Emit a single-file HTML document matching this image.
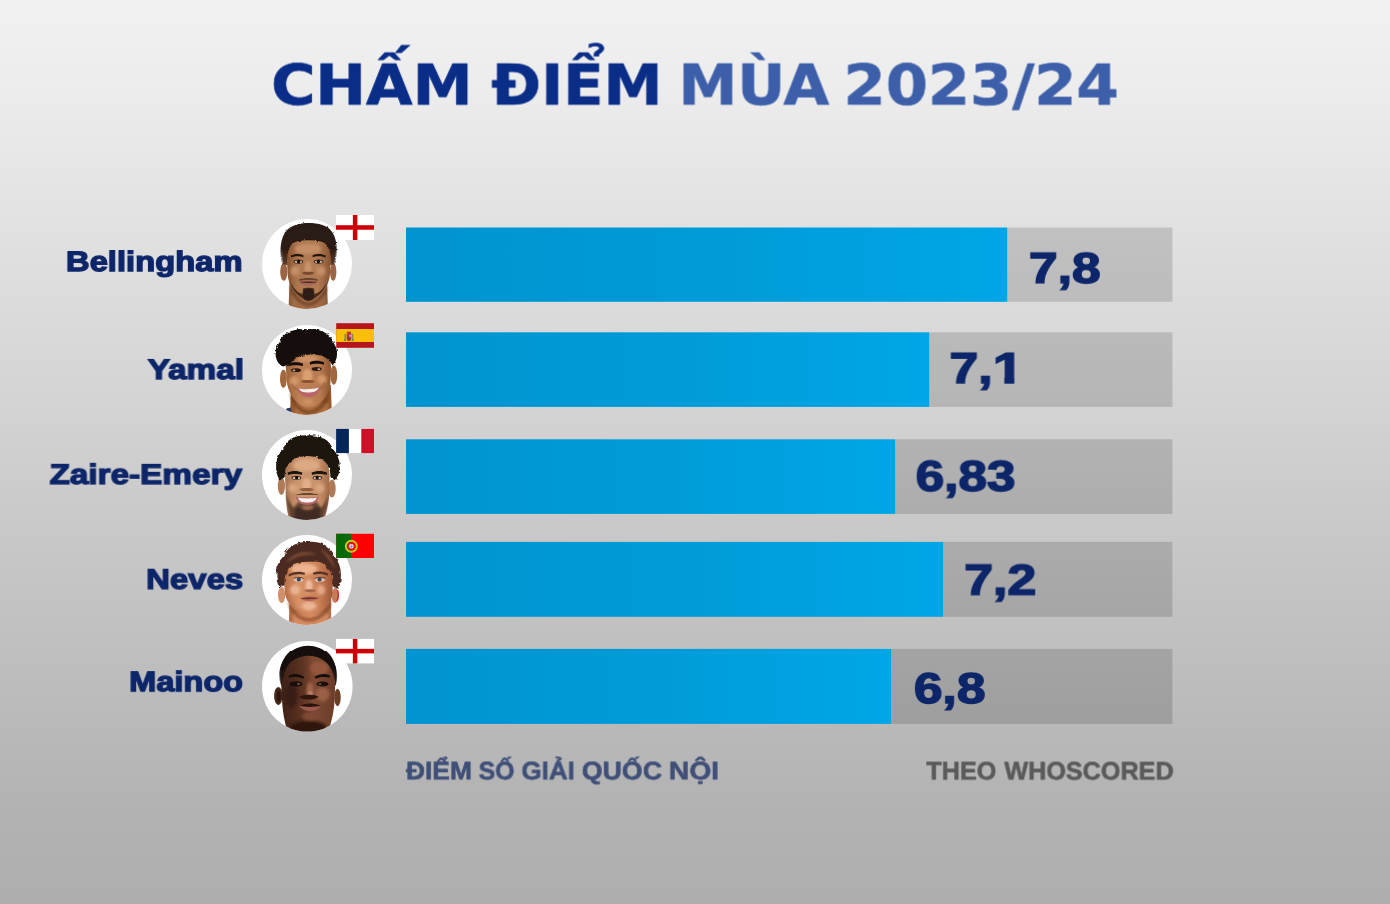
<!DOCTYPE html>
<html lang="vi">
<head>
<meta charset="utf-8">
<title>Chấm điểm mùa 2023/24</title>
<style>
html,body{margin:0;padding:0;}
body{width:1390px;height:904px;overflow:hidden;background:#cfcfcf;}
#stage{position:relative;width:1390px;height:904px;overflow:hidden;
  background:linear-gradient(to bottom,#f1f1f1 0%,#ececec 10%,#d3d3d3 45%,#cbcbcb 55%,#b2b2b2 90%,#aeaeae 100%);
  font-family:"Liberation Sans",sans-serif;}
.t{position:absolute;white-space:nowrap;will-change:transform;line-height:1;text-rendering:geometricPrecision;transform-origin:0 0;margin:0;padding:0;}
/* title */
.ttl{font-family:"DejaVu Sans","Liberation Sans",sans-serif;font-weight:700;font-size:56.1px;color:#0a2d88;-webkit-text-stroke:0.7px #0a2d88;}
.ttl.b{color:#3d5fa9;-webkit-text-stroke:0.7px #3d5fa9;}
/* names */
.nm{font-weight:700;font-size:28.1px;color:#0d2669;-webkit-text-stroke:1.3px #0d2669;transform-origin:100% 0;text-align:right;transform:scaleX(1.17);}
/* scores */
.sc{font-weight:700;font-size:43.1px;color:#0d2669;-webkit-text-stroke:1.5px #0d2669;transform:scaleX(1.19);}
.one{display:inline-block;transform-origin:0 0;transform:scaleX(1.07);clip-path:polygon(0 0,100% 0,100% 28.9px,16.9px 28.9px,16.9px 100%,9.1px 100%,9.1px 28.9px,0 28.9px);}
/* footers */
.ft{font-weight:700;font-size:25.2px;}
.fa{color:#3f4f78;-webkit-text-stroke:0.6px #3f4f78;}
.fb{color:#5a5a5a;-webkit-text-stroke:0.6px #5a5a5a;}
.av{position:absolute;left:262px;width:90px;height:90px;}
</style>
</head>
<body>
<div id="stage">

<!-- TITLE -->
<div class="t ttl" id="w1" style="left:271px;top:59px;transform:translate(0.14px,-0.47px) rotate(0.02deg) scaleX(1.0762);">CHẤM</div>
<div class="t ttl" id="w2" style="left:491px;top:59px;transform:translate(0.42px,-0.47px) rotate(0.02deg) scaleX(1.0562);">ĐIỂM</div>
<div class="t ttl b" id="w3" style="left:679px;top:59px;transform:translate(-0.54px,-0.48px) rotate(0.02deg) scaleX(1.0528);">MÙA</div>
<div class="t ttl b" id="w4" style="left:843px;top:59px;transform:translate(0.56px,-0.48px) rotate(0.02deg) scaleX(1.0801);">2023/24</div>

<!-- BARS -->
<svg id="bars" width="1390" height="904" viewBox="0 0 1390 904" style="position:absolute;left:0;top:0">
<defs>
<linearGradient id="bg1" gradientUnits="userSpaceOnUse" x1="406" y1="0" x2="1007.3" y2="0"><stop offset="0" stop-color="#0094d0"/><stop offset="0.5" stop-color="#009bd8"/><stop offset="1" stop-color="#00a6e6"/></linearGradient>
<linearGradient id="bg2" gradientUnits="userSpaceOnUse" x1="406" y1="0" x2="929.3" y2="0"><stop offset="0" stop-color="#0094d0"/><stop offset="0.5" stop-color="#009bd8"/><stop offset="1" stop-color="#00a6e6"/></linearGradient>
<linearGradient id="bg3" gradientUnits="userSpaceOnUse" x1="406" y1="0" x2="895.2" y2="0"><stop offset="0" stop-color="#0094d0"/><stop offset="0.5" stop-color="#009bd8"/><stop offset="1" stop-color="#00a6e6"/></linearGradient>
<linearGradient id="bg4" gradientUnits="userSpaceOnUse" x1="406" y1="0" x2="943.2" y2="0"><stop offset="0" stop-color="#0094d0"/><stop offset="0.5" stop-color="#009bd8"/><stop offset="1" stop-color="#00a6e6"/></linearGradient>
<linearGradient id="bg5" gradientUnits="userSpaceOnUse" x1="406" y1="0" x2="891.1" y2="0"><stop offset="0" stop-color="#0094d0"/><stop offset="0.5" stop-color="#009bd8"/><stop offset="1" stop-color="#00a6e6"/></linearGradient>
</defs>
<rect x="1007.3" y="227.5" width="165.1" height="74.3" fill="#000" fill-opacity="0.14"/>
<rect x="406" y="227.5" width="601.3" height="74.3" fill="url(#bg1)"/>
<rect x="929.3" y="332.3" width="243.1" height="74.6" fill="#000" fill-opacity="0.14"/>
<rect x="406" y="332.3" width="523.3" height="74.6" fill="url(#bg2)"/>
<rect x="895.2" y="439.3" width="277.2" height="74.6" fill="#000" fill-opacity="0.14"/>
<rect x="406" y="439.3" width="489.2" height="74.6" fill="url(#bg3)"/>
<rect x="943.2" y="541.9" width="229.2" height="74.9" fill="#000" fill-opacity="0.14"/>
<rect x="406" y="541.9" width="537.2" height="74.9" fill="url(#bg4)"/>
<rect x="891.1" y="648.9" width="281.3" height="75.0" fill="#000" fill-opacity="0.14"/>
<rect x="406" y="648.9" width="485.1" height="75.0" fill="url(#bg5)"/>
</svg>

<!-- NAMES -->
<div class="t nm" id="n1" style="right:1148px;top:248px;transform:translate(0.03px,0.04px) rotate(0.02deg) scaleX(1.1657);">Bellingham</div>
<div class="t nm" id="n2" style="right:1146px;top:356px;transform:translate(-0.21px,-0.05px) rotate(0.02deg) scaleX(1.1854);">Yamal</div>
<div class="t nm" id="n3" style="right:1148px;top:461px;transform:translate(-0.36px,-0.13px) rotate(0.02deg) scaleX(1.1853);">Zaire-Emery</div>
<div class="t nm" id="n4" style="right:1147px;top:566px;transform:translate(0.47px,-0.25px) rotate(0.02deg) scaleX(1.1727);">Neves</div>
<div class="t nm" id="n5" style="right:1147px;top:668px;transform:translate(-0.18px,0.14px) rotate(0.02deg) scaleX(1.1593);">Mainoo</div>

<!-- SCORES -->
<div class="t sc" id="s1" style="left:1029px;top:248px;transform:translate(-0.08px,-0.23px) rotate(0.02deg) scaleX(1.1974);">7,8</div>
<div class="t sc" id="s2" style="left:950px;top:348px;transform:translate(-0.50px,-0.10px) rotate(0.02deg) scaleX(1.1990);">7,<span class="one">1</span></div>
<div class="t sc" id="s3" style="left:916px;top:456px;transform:translate(-0.31px,-0.29px) rotate(0.02deg) scaleX(1.1901);">6,83</div>
<div class="t sc" id="s4" style="left:964px;top:560px;transform:translate(0.24px,-0.44px) rotate(0.02deg) scaleX(1.2037);">7,2</div>
<div class="t sc" id="s5" style="left:914px;top:668px;transform:translate(-0.10px,-0.03px) rotate(0.02deg) scaleX(1.1930);">6,8</div>

<!-- FOOTERS -->
<div class="t ft fa" id="f1a" style="left:406px;top:759px;transform:translate(0.12px,0.36px) rotate(0.02deg) scaleX(1.0444);">ĐIỂM</div>
<div class="t ft fa" id="f1b" style="left:479px;top:759px;transform:translate(-0.36px,0.36px) rotate(0.02deg) scaleX(0.9863);">SỐ</div>
<div class="t ft fa" id="f1c" style="left:522px;top:759px;transform:translate(-0.56px,0.36px) rotate(0.02deg) scaleX(1.0309);">GIẢI</div>
<div class="t ft fa" id="f1d" style="left:581px;top:759px;transform:translate(0.79px,0.36px) rotate(0.02deg) scaleX(1.0611);">QUỐC</div>
<div class="t ft fa" id="f1e" style="left:669px;top:759px;transform:translate(-0.15px,0.36px) rotate(0.02deg) scaleX(1.1213);">NỘI</div>
<div class="t ft fb" id="f2a" style="left:926px;top:759px;transform:translate(0.22px,0.50px) rotate(0.02deg) scaleX(1.0017);">THEO</div>
<div class="t ft fb" id="f2b" style="left:1004px;top:759px;transform:translate(0.36px,0.50px) rotate(0.02deg) scaleX(0.9999);">WHOSCORED</div>

<!-- AVATARS -->
<svg width="0" height="0" style="position:absolute"><defs>
<filter id="soft" x="-10%" y="-10%" width="120%" height="120%"><feGaussianBlur stdDeviation="0.5"/></filter>
<filter id="soft2" x="-30%" y="-30%" width="160%" height="160%"><feGaussianBlur stdDeviation="1.8"/></filter>
<filter id="soft3" x="-30%" y="-30%" width="160%" height="160%"><feGaussianBlur stdDeviation="1"/></filter>
<filter id="curl" x="-10%" y="-10%" width="120%" height="120%"><feTurbulence type="fractalNoise" baseFrequency="0.32" numOctaves="2" seed="4" result="n"/><feDisplacementMap in="SourceGraphic" in2="n" scale="3.2" xChannelSelector="R" yChannelSelector="G"/></filter>
<filter id="curl2" x="-10%" y="-10%" width="120%" height="120%"><feTurbulence type="fractalNoise" baseFrequency="0.22" numOctaves="2" seed="9" result="n"/><feDisplacementMap in="SourceGraphic" in2="n" scale="4" xChannelSelector="R" yChannelSelector="G"/></filter>
<filter id="curl1" x="-10%" y="-10%" width="120%" height="120%"><feTurbulence type="fractalNoise" baseFrequency="0.4" numOctaves="2" seed="7" result="n"/><feDisplacementMap in="SourceGraphic" in2="n" scale="2.4" xChannelSelector="R" yChannelSelector="G"/></filter>
<filter id="fuzz" x="-10%" y="-10%" width="120%" height="120%"><feTurbulence type="fractalNoise" baseFrequency="0.5" numOctaves="1" seed="2" result="n"/><feDisplacementMap in="SourceGraphic" in2="n" scale="1.6" xChannelSelector="R" yChannelSelector="G"/></filter>
<linearGradient id="sk1" x1="0" y1="0" x2="1" y2="0"><stop offset="0" stop-color="#85522f"/><stop offset="0.25" stop-color="#ae774f"/><stop offset="0.7" stop-color="#b27b53"/><stop offset="1" stop-color="#885433"/></linearGradient>
<linearGradient id="sk2" x1="0" y1="0" x2="1" y2="0"><stop offset="0" stop-color="#9a6038"/><stop offset="0.3" stop-color="#bd8056"/><stop offset="0.75" stop-color="#b87a50"/><stop offset="1" stop-color="#8e5430"/></linearGradient>
<linearGradient id="sk3" x1="0" y1="0" x2="1" y2="0"><stop offset="0" stop-color="#a8734f"/><stop offset="0.3" stop-color="#cc966f"/><stop offset="0.75" stop-color="#c9926b"/><stop offset="1" stop-color="#a06a48"/></linearGradient>
<linearGradient id="sk4" x1="0" y1="0" x2="1" y2="0"><stop offset="0" stop-color="#b86e46"/><stop offset="0.3" stop-color="#d89266"/><stop offset="0.7" stop-color="#cc8258"/><stop offset="1" stop-color="#a05636"/></linearGradient>
<linearGradient id="sk5" x1="0" y1="0" x2="1" y2="0"><stop offset="0" stop-color="#3e2116"/><stop offset="0.4" stop-color="#5c3322"/><stop offset="0.6" stop-color="#7e4a33"/><stop offset="1" stop-color="#6a3c28"/></linearGradient>
<linearGradient id="fade" x1="0" y1="0" x2="0" y2="1"><stop offset="0" stop-color="#2a1a12"/><stop offset="0.6" stop-color="#2a1a12"/><stop offset="1" stop-color="#2a1a12" stop-opacity="0.35"/></linearGradient>
<linearGradient id="fade5" x1="0" y1="0" x2="0" y2="1"><stop offset="0" stop-color="#15100e"/><stop offset="0.55" stop-color="#15100e"/><stop offset="1" stop-color="#15100e" stop-opacity="0.3"/></linearGradient>
</defs></svg>
<svg class="av" style="top:219px;width:90px;height:90px" viewBox="0 0 90 90">
<defs><clipPath id="cp1"><circle cx="45" cy="45" r="45"/></clipPath></defs>
<circle cx="45" cy="45" r="45" fill="#fff"/>
<g clip-path="url(#cp1)"><g filter="url(#soft)">
<path d="M27.5 62 L26.5 92 L66 92 L65 62Z" fill="#8f5d3d"/>
<path d="M30 76 L30 92 L62 92 L62 76Z" fill="#a06a45" filter="url(#soft3)"/>
<path d="M28 64 C32 76 40 83 46.5 84 C53 83 61 76 65 64 L65 72 C60 82 52 87 46.5 87 C41 87 33 82 28 72Z" fill="#6a4128" opacity="0.75" filter="url(#soft3)"/>
<ellipse cx="21.8" cy="52.8" rx="3.6" ry="9" fill="#9a6544"/><ellipse cx="71.2" cy="52.8" rx="3.2" ry="9" fill="#9a6544"/>
<path d="M21.5 46 C19.5 36 20 26 24 19 L69.5 19 C73.5 26 74 36 71.8 46Z" fill="#7a5037"/>
<path d="M25 42 C24 27 31 18 46.5 18 C62 18 69.5 27 68.6 42 L67.8 57 C66.5 68 57 81.5 46.5 81.5 C36.5 81.5 27.2 68 25.8 57Z" fill="url(#sk1)"/>
<ellipse cx="46" cy="30" rx="13" ry="5" fill="#c48f68" filter="url(#soft2)"/>
<ellipse cx="33" cy="52" rx="4.5" ry="5" fill="#c48f68" filter="url(#soft2)"/><ellipse cx="59" cy="52" rx="4.5" ry="5" fill="#c48f68" filter="url(#soft2)"/>
<ellipse cx="46" cy="49" rx="3.4" ry="7" fill="#c8936c" filter="url(#soft3)"/>
<g filter="url(#curl1)"><path d="M20.5 46 C17.5 36 17.5 22 23 13.5 C28 6 38 4 46.5 4 C56 4 66 6 70.5 13.5 C76 22 75.5 36 72.5 46 L69 44 C69 38 68.5 34 67 30.5 C65.5 26 62.5 23 58 22.2 C50 21 42 21 35 22.6 C30.5 23.4 28 27 26.8 31 C25.5 35 25 40 24.8 44Z" fill="url(#fade)"/>
<path d="M23 30 C20 20 27 7 46.5 6 C66 7 73 20 70 30 C66 24 62 22 58 21.6 C50 20.4 42 20.4 35 22 C30 22.6 27 25 23 30Z" fill="#2a1a12"/></g>
<path d="M27.2 60 C29.5 71 37 79.5 46.5 82 C56 79.5 63.5 71 66.2 60 C63.5 68 58 73.5 52.5 75 L52 69.5 C50 68.6 43 68.6 41 69.5 L40.5 75 C35 73.5 30 68 27.2 60Z" fill="#3a2318" opacity="0.88"/>
<path d="M43 70.2 C45 69.6 48 69.6 50 70.2 C51.6 73 52.6 77 51.4 79.8 C49.5 82.2 43.5 82.2 41.6 79.8 C40.4 77 41.4 73 43 70.2Z" fill="#2c1a11" opacity="0.92"/>
<path d="M37 60.6 C42 58.6 51 58.6 56 60.6 L55.5 62 C51 60.6 42 60.6 37.5 62Z" fill="#4a2c1e" opacity="0.7"/>
<path d="M28.8 36.6 C32.5 34.4 38 34.6 41.6 36.4 L41.3 38.3 C38 37 32.5 37 29.2 38.6Z" fill="#22140d"/>
<path d="M50.4 36.4 C54 34.6 59.8 34.4 63.8 36.6 L63.4 38.6 C59.8 37 54 37 50.7 38.3Z" fill="#22140d"/>
<ellipse cx="36.4" cy="42.6" rx="4.8" ry="2.1" fill="#3a2216"/><ellipse cx="56.6" cy="42.6" rx="4.8" ry="2.1" fill="#3a2216"/><ellipse cx="36.4" cy="42.8" rx="3.8" ry="1.3" fill="#cdbcae"/><ellipse cx="56.6" cy="42.8" rx="3.8" ry="1.3" fill="#cdbcae"/>
<circle cx="36.6" cy="42.5" r="1.7" fill="#0e0806"/><circle cx="56.4" cy="42.5" r="1.7" fill="#0e0806"/>
<path d="M39.8 54 C42 56.6 50.5 56.6 52.6 54 C50.5 52.2 42 52.2 39.8 54Z" fill="#7a4a31"/>
<path d="M37.4 63 C42 61 51 61 55.6 63 C52 68.4 41 68.4 37.4 63Z" fill="#a4685a"/>
<path d="M37.4 63 C42 62.2 51 62.2 55.6 63 C51 64.4 42 64.4 37.4 63Z" fill="#50291f"/>
</g></g></svg>
<svg class="av" style="top:324.6px;width:90px;height:90px" viewBox="0 0 90 90">
<defs><clipPath id="cp2"><circle cx="45" cy="45" r="45"/></clipPath></defs>
<circle cx="45" cy="45" r="45" fill="#fff"/>
<g clip-path="url(#cp2)"><g filter="url(#soft)">
<path d="M29 62 L28 92 L70 92 L68.8 60Z" fill="#96582f"/>
<path d="M33 78 L33 92 L66 92 L66 78Z" fill="#b0703f" filter="url(#soft3)"/>
<path d="M28 66 C32 78 40 85 46.8 85.6 C54 85 62 78 67.4 64 L67 74 C62 84 54 89 46.8 89 C40 89 33 84 28.6 74Z" fill="#6e3f1f" opacity="0.7" filter="url(#soft3)"/>
<path d="M24.5 83.5 L29 82.5 L29.6 92 L22 92Z" fill="#2b3a68"/>
<ellipse cx="21.4" cy="53.8" rx="3.4" ry="9.2" fill="#a2673e"/><ellipse cx="71.8" cy="50" rx="3.4" ry="9.8" fill="#a2673e"/>
<path d="M23.8 42 C23 30 31 25 46 25 C61 25 69.5 30 69 42 L68.4 58 C67 71 57 82.4 46.8 82.4 C37 82.4 27 71 25 58Z" fill="url(#sk2)"/>
<ellipse cx="45.5" cy="51" rx="5" ry="7" fill="#dba070" filter="url(#soft3)"/>
<ellipse cx="32" cy="56" rx="4.5" ry="4.5" fill="#d3976a" filter="url(#soft2)"/><ellipse cx="60" cy="54.5" rx="4.5" ry="4.5" fill="#d3976a" filter="url(#soft2)"/>
<ellipse cx="46" cy="34" rx="10" ry="3.5" fill="#cf9366" filter="url(#soft2)"/>
<ellipse cx="46" cy="77" rx="6" ry="3" fill="#cf9366" filter="url(#soft2)"/>
<g filter="url(#curl)"><path d="M21 41.5 C13 38 11 25 17.5 17.5 C20 8 32 3 45 4.2 C58 2.6 70 9.5 72.2 19 C76.5 25 76 35 70.5 40.5 C68.5 36.5 66 33.5 61.5 31.6 C55 29 49.5 29.6 45 29.8 C39 30.4 34 32.5 30 36.5 C27 39.5 24 40.5 21 41.5Z" fill="#15100e"/></g>
<path d="M26 38.6 C30 36.6 37 36.8 41 38.6 L40.8 41.2 C37 39.8 30 39.8 26.4 41.2Z" fill="#140d0a"/>
<path d="M47.8 37.2 C52 35.2 58 35.2 62.2 37.4 L61.8 39.8 C58 38.4 52 38.4 48 39.8Z" fill="#140d0a"/>
<ellipse cx="34" cy="45.2" rx="5" ry="1.9" fill="#2a180f"/><ellipse cx="54.6" cy="44" rx="5" ry="1.9" fill="#2a180f"/><ellipse cx="32" cy="45.4" rx="1.4" ry="0.9" fill="#bfae9f"/><ellipse cx="56.8" cy="44.2" rx="1.4" ry="0.9" fill="#bfae9f"/>
<path d="M38.8 56.4 C41.5 58.6 50 58.6 52.8 56.4 C50.5 54.6 41 54.6 38.8 56.4Z" fill="#8a5230"/>
<path d="M30 58 C31 62 33 64 35 65" stroke="#8a5230" stroke-width="0.9" fill="none" opacity="0.7"/><path d="M62.5 57 C61.8 61 60 63 58.6 64" stroke="#8a5230" stroke-width="0.9" fill="none" opacity="0.7"/>
<path d="M35.2 63 C40 64.8 52 64.4 58.4 61.8 C57 69.6 51.6 71.8 46.4 71.8 C41 71.8 36.6 69.4 35.2 63Z" fill="#b8626a"/>
<path d="M36.8 63.6 C41 64.8 52 64.4 56.8 62.6 C55.4 66.6 51.4 67.6 46.4 67.6 C41.6 67.6 38.4 66.8 36.8 63.6Z" fill="#f5efeb"/>
</g></g></svg>
<svg class="av" style="top:429.6px;width:90px;height:90px" viewBox="0 0 90 90">
<defs><clipPath id="cp3"><circle cx="45" cy="45" r="45"/></clipPath></defs>
<circle cx="45" cy="45" r="45" fill="#fff"/>
<g clip-path="url(#cp3)"><g filter="url(#soft)">
<ellipse cx="19.4" cy="56" rx="3.6" ry="9" fill="#b07a56"/><ellipse cx="70" cy="58.6" rx="3.7" ry="9" fill="#b07a56"/>
<path d="M23 46 C22.4 32 31 25 45 25 C59 25 68.2 32 67.6 46 L67.2 64 C66.6 76 63.5 86 61 92 L28 92 C25.6 86 24.4 76 23.8 64Z" fill="url(#sk3)"/>
<ellipse cx="44.5" cy="35" rx="13" ry="6" fill="#dca982" filter="url(#soft2)"/>
<ellipse cx="44.5" cy="55" rx="4.5" ry="7" fill="#e0ae88" filter="url(#soft3)"/>
<ellipse cx="31" cy="58" rx="4.5" ry="4.5" fill="#d9a57e" filter="url(#soft2)"/><ellipse cx="58" cy="58" rx="4.5" ry="4.5" fill="#d9a57e" filter="url(#soft2)"/>
<g filter="url(#curl)"><path d="M17.8 50.5 C12 41 13 27 21 19.5 C24 9.5 34 4.6 45 5.4 C57 4 68 9.5 71 19.5 C79 27 80 41 73.6 51 L68.4 47 C68.6 38 65 31.5 58 28.4 C50 25 40 25.2 33 28.6 C26.5 32 22.6 38 22.8 47Z" fill="#1b1411"/></g>
<path d="M23.8 62 C25 74 27 84 29.5 92 L60.5 92 C63 84 65.5 74 67.2 62 C65 70 62 75.5 58.6 78 C57 73.5 53 69.5 45.5 69.5 C38 69.5 34 73.5 32.4 78 C29 75.5 26 70 23.8 62Z" fill="#3a261a" opacity="0.7" filter="url(#soft3)"/>
<path d="M33 77.5 C37 76 41 79.5 45.5 79.5 C50 79.5 54 76 58 77.5 L58.5 92 L32 92Z" fill="#33201a" opacity="0.72" filter="url(#soft3)"/>
<ellipse cx="45.5" cy="77.6" rx="6" ry="2.2" fill="#a06e4e" filter="url(#soft3)"/>
<path d="M25.6 42.6 C29.6 40.4 36 40.6 40.2 42.6 L39.8 45 C36 43.6 29.6 43.6 26 45Z" fill="#1c120c"/>
<path d="M49.6 42.6 C54 40.6 60.6 40.4 65 42.6 L64.6 45 C60.6 43.6 54 43.6 50 45Z" fill="#1c120c"/>
<ellipse cx="34.4" cy="47.8" rx="4.8" ry="2" fill="#3a2216"/><ellipse cx="55.4" cy="47.8" rx="4.8" ry="2" fill="#3a2216"/><ellipse cx="34.4" cy="48" rx="3.8" ry="1.2" fill="#d6c6ba"/><ellipse cx="55.4" cy="48" rx="3.8" ry="1.2" fill="#d6c6ba"/>
<circle cx="34.6" cy="47.7" r="1.6" fill="#0e0806"/><circle cx="55.2" cy="47.7" r="1.6" fill="#0e0806"/>
<path d="M37.2 59.4 C40 62 49 62 52 59.4 C49.6 57.6 39.6 57.6 37.2 59.4Z" fill="#935f3e"/>
<path d="M33.2 65.2 C39 62.6 51 62.6 57.4 65.2 C52 64.6 38.6 64.6 33.2 65.2Z" fill="#2e1c13" opacity="0.85"/>
<path d="M33.6 66.6 C39 68.2 51.4 68.2 57 66.6 C55.8 73.2 50.4 75 45.2 75 C40 75 35 73.2 33.6 66.6Z" fill="#b4666a"/>
<path d="M36 67.6 C40 68.8 50.6 68.8 54.8 67.6 C53.8 71.6 50 72.6 45.2 72.6 C40.4 72.6 37 71.6 36 67.6Z" fill="#f6f1ee"/>
</g></g></svg>
<svg class="av" style="top:534.6px;width:90px;height:90px" viewBox="0 0 90 90">
<defs><clipPath id="cp4"><circle cx="45" cy="45" r="45"/></clipPath></defs>
<circle cx="45" cy="45" r="45" fill="#fff"/>
<g clip-path="url(#cp4)"><g filter="url(#soft)">
<path d="M27.6 62 L26.8 92 L69.4 92 L68.8 60Z" fill="#b46e48"/>
<path d="M31 78 L31 92 L66 92 L66 78Z" fill="#d48c62" filter="url(#soft3)"/>
<path d="M26 64 C30 76 39 82.6 47.2 83 C56 82.4 65 75 69.4 62 L69 72 C64 82 55 86.6 47.2 86.6 C40 86.6 31 82 26.6 72Z" fill="#8a4a2c" opacity="0.7" filter="url(#soft3)"/>
<ellipse cx="19.6" cy="60" rx="3.6" ry="8" fill="#d18f6b"/><ellipse cx="73.2" cy="60.4" rx="3.6" ry="7.4" fill="#c77a58"/>
<path d="M75.4 55 C76.8 58 76.6 62 75 66" stroke="#c8302a" stroke-width="1.4" fill="none"/>
<path d="M21.8 46 C21 32 31 24 46 24 C62 24 71.6 32 71 46 L70.2 60 C68.8 70 58.5 79.6 47.2 79.6 C36.5 79.6 25.8 70 23.2 60Z" fill="url(#sk4)"/>
<ellipse cx="42" cy="34" rx="13" ry="5.5" fill="#eeb490" filter="url(#soft2)"/>
<ellipse cx="47" cy="51" rx="3.6" ry="6.4" fill="#efbb9b" filter="url(#soft3)"/>
<ellipse cx="33" cy="55" rx="5" ry="5" fill="#eab292" filter="url(#soft2)"/><ellipse cx="59" cy="55" rx="4" ry="5" fill="#e4a887" filter="url(#soft2)"/>
<ellipse cx="47" cy="71" rx="7.5" ry="4.4" fill="#ecb696" filter="url(#soft2)"/>
<path d="M24 60 C27 70 36 79 47 79.6 C40 77 30 71 26 60Z" fill="#b06a48" opacity="0.6" filter="url(#soft3)"/>
<g filter="url(#curl2)"><path d="M17.4 52.6 C12.6 43 13.6 30 20.4 23.4 C24.4 12.4 34.4 6 46 7 C58 5.6 70 11.4 73 22.4 C80 30 80.4 44 76.4 54 L70.6 50 C71 41 68.4 33.6 62.6 29.4 C57 25.4 51 26.4 45.6 26.8 C38.6 27.2 32.6 27.2 28.4 31.4 C23.6 36.4 22.4 42 22.6 50Z" fill="#4c2c21"/></g>
<path d="M24 28 C30 17 46 14 56 20 C46 18.5 34 21 24 28Z" fill="#7a4a36" filter="url(#soft3)"/>
<path d="M58 14 C66 17 72 25 73 34 C69 27 64 21 58 14Z" fill="#7a4a36" filter="url(#soft3)"/>
<path d="M26.4 39.6 C30.4 36.4 38 35.8 43 37.8 L42.6 39.8 C38 38.6 31 39.2 27 41.6Z" fill="#55362a"/>
<path d="M51 37.8 C56 35.8 62.4 36.2 66.2 38.8 L65.6 40.8 C62.4 39 56 38.6 51.4 39.8Z" fill="#55362a"/>
<ellipse cx="36.6" cy="44.8" rx="4.8" ry="2" fill="#d8c0b4"/><ellipse cx="57.8" cy="44.8" rx="5.2" ry="2" fill="#d8c0b4"/>
<circle cx="36.8" cy="44.6" r="2" fill="#33455c"/><circle cx="57.6" cy="44.6" r="2" fill="#33455c"/>
<path d="M32 43.2 C35 42 39 42 41.6 43.6" stroke="#5a3828" stroke-width="0.9" fill="none"/><path d="M52.6 43.6 C55.6 42 60 42 63.2 43.2" stroke="#5a3828" stroke-width="0.9" fill="none"/>
<path d="M42 55.6 C44.6 58 51.4 58 54.2 55.6 C52 53.8 44 53.8 42 55.6Z" fill="#a8654a"/>
<path d="M38.2 63.4 C43 60.6 52 60.4 57.2 63 C52.6 67 43 67.2 38.2 63.4Z" fill="#b86a5a"/>
<path d="M38.2 63.4 C43.4 62.2 52 62.2 57.2 63 C52 64.4 43.4 64.6 38.2 63.4Z" fill="#6a3228"/>
</g></g></svg>
<svg class="av" style="top:641.4px;width:90.6px;height:90.6px" viewBox="0 0 90 90">
<defs><clipPath id="cp5"><circle cx="45" cy="45" r="45"/></clipPath></defs>
<circle cx="45" cy="45" r="45" fill="#fff"/>
<g clip-path="url(#cp5)"><g filter="url(#soft)">
<ellipse cx="16.2" cy="54.6" rx="4.2" ry="9" fill="#4a281b"/><ellipse cx="16.6" cy="54.6" rx="2" ry="6" fill="#2a150e"/>
<ellipse cx="75" cy="56" rx="3.2" ry="8.6" fill="#6a3c28"/>
<path d="M19 44 C16 30 20 16 28 10 L64 10 C72 16 76 30 73.4 44Z" fill="#3a2015"/>
<path d="M19 42 C18.4 26 29 10 46 10 C63 10 73.4 26 72.8 42 L72 60 C71.4 72 68 84 65 92 L26 92 C23.4 84 20.6 72 20 60Z" fill="url(#sk5)"/>
<ellipse cx="57" cy="27" rx="9" ry="7" fill="#96593e" filter="url(#soft2)"/>
<ellipse cx="60" cy="53" rx="7" ry="7" fill="#9a5f45" filter="url(#soft2)"/>
<ellipse cx="47.6" cy="49" rx="3.4" ry="8" fill="#a0644a" filter="url(#soft3)"/>
<ellipse cx="48" cy="52" rx="2" ry="2" fill="#c88c70" filter="url(#soft3)"/>
<ellipse cx="29" cy="54" rx="6" ry="13" fill="#381d13" filter="url(#soft2)"/>
<ellipse cx="46" cy="86" rx="18" ry="7" fill="#2e170f" filter="url(#soft2)"/>
<ellipse cx="47" cy="75" rx="7" ry="4" fill="#7e4a35" filter="url(#soft2)"/>
<g filter="url(#fuzz)"><path d="M18.6 44 C13 26 24 5.4 46 4.6 C67 5.4 77.6 24 73.6 42 L71.6 36 C70 28 66 21.6 58 17.2 C51 13.6 41 13.6 35 17 C27 20.6 22.6 27 20.6 38Z" fill="url(#fade5)"/>
<path d="M20.6 30 C19 18 28 6 46 5 C64 6 72.6 18 71.4 30 C68 23.6 64 19.6 58 17 C51 13.6 41 13.6 35 17 C28 19.6 23.6 24 20.6 30Z" fill="#15100e"/></g>
<path d="M26.4 34.4 C31 31.6 38 32.4 41.8 35.6 L41.2 37.4 C37.6 35.6 31 35 26.8 36.6Z" fill="#190e0a"/>
<path d="M52.4 35.6 C56.6 32.4 63.4 31.6 67.6 34.4 L67.2 36.6 C63.4 35 57 35.6 53 37.4Z" fill="#190e0a"/>
<ellipse cx="33.8" cy="42.6" rx="6.4" ry="2.5" fill="#1c0f0a"/><ellipse cx="60" cy="42.8" rx="6" ry="2.5" fill="#1c0f0a"/>
<ellipse cx="36.4" cy="42.6" rx="1.6" ry="1.1" fill="#5a4a42"/><ellipse cx="57.6" cy="42.8" rx="1.6" ry="1.1" fill="#5a4a42"/>
<path d="M37 55.6 C40.6 59 52 59 56.2 55.6 C52.6 52.8 40.6 52.8 37 55.6Z" fill="#2e160e"/>
<path d="M36.8 64.4 C42 60.6 52.6 60.6 58.4 64.4 C54.4 71.4 41 71.4 36.8 64.4Z" fill="#9a5a4c"/>
<path d="M36.8 64.4 C42 61 52.6 61 58.4 64.4 C52.6 65.8 42 65.8 36.8 64.4Z" fill="#2c150f"/>
</g></g></svg>
<!-- /AVATARS -->

<!-- FLAGS -->
<svg id="flags" width="1390" height="904" viewBox="0 0 1390 904" style="position:absolute;left:0;top:0">
<g transform="translate(336 215.0)"><rect width="38" height="25.0" fill="#fff"/><rect x="16.85" width="4.5" height="25.0" fill="#cd0209"/><rect y="10.20" width="38" height="4.55" fill="#cd0209"/></g>
<g transform="translate(336.2 323.2)"><rect width="37.8" height="24.6" fill="#b5161c"/><rect y="5.8" width="37.8" height="13" fill="#fbbf0a"/>
<rect x="8.2" y="10.6" width="1.5" height="6.9" fill="#8f8a52"/><rect x="15.7" y="10.6" width="1.5" height="6.9" fill="#8f8a52"/>
<rect x="7.9" y="16.2" width="2.1" height="1.4" fill="#5f8a4a"/><rect x="15.4" y="16.2" width="2.1" height="1.4" fill="#5f8a4a"/>
<path d="M10.5 10 L15 10 L15 15 C15 17 13.6 17.8 12.75 17.8 C11.9 17.8 10.5 17 10.5 15Z" fill="#b2361c"/>
<rect x="10.7" y="8.3" width="4.1" height="1.9" rx="0.5" fill="#b63a1c"/><rect x="11.6" y="7.9" width="2.3" height="0.8" fill="#d9a61a"/>
<circle cx="13.9" cy="12.6" r="1.15" fill="#c0a8de"/><rect x="11" y="13.6" width="1.9" height="2.4" fill="#5a3a78" opacity="0.7"/></g>
<g transform="translate(336.1 428.9)"><rect width="37.9" height="24.2" fill="#fff"/><rect width="12.8" height="24.2" fill="#04265a"/><rect x="25.2" width="12.7" height="24.2" fill="#ce1126"/></g>
<g transform="translate(336.2 533.8)"><rect width="37.8" height="24.2" fill="#fe0000"/><rect width="14.9" height="24.2" fill="#056a07"/>
<circle cx="15.1" cy="12.4" r="5.5" fill="none" stroke="#d6d21a" stroke-width="1.9"/><circle cx="15.1" cy="12.4" r="5.5" fill="none" stroke="#9aa81a" stroke-width="0.7" stroke-dasharray="1.4 1.6"/>
<circle cx="15.1" cy="12.4" r="4" fill="#f01010"/><circle cx="15.1" cy="12.4" r="2.3" fill="#f6f4fb"/>
<circle cx="15.1" cy="11.3" r="0.55" fill="#3a5ac8"/><circle cx="15.1" cy="13.5" r="0.55" fill="#3a5ac8"/><circle cx="14" cy="12.4" r="0.55" fill="#3a5ac8"/><circle cx="16.2" cy="12.4" r="0.55" fill="#3a5ac8"/><circle cx="15.1" cy="12.4" r="0.55" fill="#3a5ac8"/></g>
<g transform="translate(336 638.9)"><rect width="38" height="24.5" fill="#fff"/><rect x="16.85" width="4.5" height="24.5" fill="#cd0209"/><rect y="9.95" width="38" height="4.55" fill="#cd0209"/></g>
</svg>

</div>
</body>
</html>
